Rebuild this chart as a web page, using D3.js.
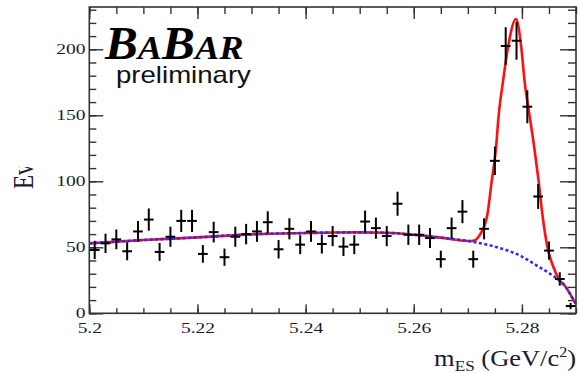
<!DOCTYPE html>
<html><head><meta charset="utf-8">
<script src="https://cdn.jsdelivr.net/npm/d3@7"></script>
<style>html,body{margin:0;padding:0;background:#fff}</style>
</head><body>
<script>
// ---- data ----
const binCenters = [5.201,5.203,5.205,5.207,5.209,5.211,5.213,5.215,5.217,5.219,
  5.221,5.223,5.225,5.227,5.229,5.231,5.233,5.235,5.237,5.239,
  5.241,5.243,5.245,5.247,5.249,5.251,5.253,5.255,5.257,5.259,
  5.261,5.263,5.265,5.267,5.269,5.271,5.273,5.275,5.277,5.279,
  5.281,5.283,5.285,5.287,5.289];
const counts = [48,53,56,47,62,71,46.5,58,70,70,
  45,61.5,42.5,58,60,62,69,48.5,64,52,
  62,52.5,58.5,50.5,52,69.5,64.5,58.5,83,59.5,
  59.5,57,41,64.5,77,41,64,115.5,202.5,206.5,
  156.5,88.5,47.5,26,5.5];
// background fit (blue dotted): [mES, events]
const bgMass  = [5.200,5.210,5.220,5.230,5.240,5.245,5.250,5.255,5.260,5.265,5.270,5.275,5.280,5.283,5.285,5.287,5.288,5.289,5.290];
const bgValue = [53,55.5,57.5,59.8,60.8,61.2,61.3,61.0,59.5,57.3,54.8,50.5,43,35.5,30.5,24.5,20.5,14,7];
// total fit (red) in the peak region
const peakMass  = [5.2710,5.2723,5.2736,5.2744,5.2752,5.2757,5.2765,5.2774,5.2789,5.2799,5.2805,5.2814,5.2823,5.2831,5.2838,5.2847,5.2858,5.2869,5.2880,5.2890,5.2900];
const peakValue = [55.0,60,74.5,99.7,125,150,175.5,200.8,223,200.8,175.5,150.2,125,99.7,74.5,50.5,35.3,25.5,20.5,14,7];
const xTickLabels = [5.20,5.22,5.24,5.26,5.28];
const yTickLabels = [0,50,100,150,200];

const W = 579, H = 373;
const L = 89.3, R = 576, T = 7, B = 313.3;
const svg = d3.select("body").append("svg").attr("width", W).attr("height", H)
  .style("background","#fff");

const x = d3.scaleLinear().domain([5.2, 5.29]).range([L, R]);
const y = d3.scaleLinear().domain([0, (B - T) / 1.32]).range([B, T]);

const tickColor = "#333";
const labelColor = "#1a1a33";
const sx = 1.3;

function styleTicks(g){
  g.select(".domain").remove();
  g.selectAll("line").attr("stroke", tickColor).attr("stroke-width", 1.4);
}

// minor ticks
const xMinor = x.ticks(18), yMinor = y.ticks(23);
svg.append("g").attr("transform",`translate(0,${B})`)
  .call(d3.axisBottom(x).tickValues(xMinor).tickSizeInner(-5).tickSizeOuter(0).tickFormat(""))
  .call(styleTicks);
svg.append("g").attr("transform",`translate(0,${T})`)
  .call(d3.axisTop(x).tickValues(xMinor).tickSizeInner(-7).tickSizeOuter(0).tickFormat(""))
  .call(styleTicks);
svg.append("g").attr("transform",`translate(${L},0)`)
  .call(d3.axisLeft(y).tickValues(yMinor).tickSizeInner(-7).tickSizeOuter(0).tickFormat(""))
  .call(styleTicks);
svg.append("g").attr("transform",`translate(${R},0)`)
  .call(d3.axisRight(y).tickValues(yMinor).tickSizeInner(-8).tickSizeOuter(0).tickFormat(""))
  .call(styleTicks);

// major ticks + labels
const gx = svg.append("g").attr("transform",`translate(0,${B})`)
  .call(d3.axisBottom(x).tickValues(xTickLabels).tickSizeInner(-9).tickSizeOuter(0).tickPadding(9)
    .tickFormat(d => d3.format("")(+d.toFixed(2))))
  .call(styleTicks);
gx.selectAll("text").attr("font-family","Liberation Serif").attr("font-size",15)
  .attr("fill",labelColor).attr("transform",`scale(${sx},1)`);
svg.append("g").attr("transform",`translate(0,${T})`)
  .call(d3.axisTop(x).tickValues(xTickLabels).tickSizeInner(-12).tickSizeOuter(0).tickFormat(""))
  .call(styleTicks);
const gy = svg.append("g").attr("transform",`translate(${L},0)`)
  .call(d3.axisLeft(y).tickValues(yTickLabels).tickSizeInner(-14).tickSizeOuter(0).tickPadding(3))
  .call(styleTicks);
gy.selectAll("text").attr("font-family","Liberation Serif").attr("font-size",15)
  .attr("fill",labelColor).attr("transform",`scale(${sx},1)`).attr("dy","0.3em");
svg.append("g").attr("transform",`translate(${R},0)`)
  .call(d3.axisRight(y).tickValues(yTickLabels).tickSizeInner(-16).tickSizeOuter(0).tickFormat(""))
  .call(styleTicks);

// frame
svg.append("rect").attr("x",L).attr("y",T).attr("width",R-L).attr("height",B-T)
  .attr("fill","none").attr("stroke",tickColor).attr("stroke-width",1.6);

// curves
const bgCurve = bgMass.map((m,i)=>[m,bgValue[i]]);
const totalCurve = bgCurve.filter(p => p[0] < 5.2705).concat(peakMass.map((m,i)=>[m,peakValue[i]]));
const line = d3.line().x(d=>x(d[0])).y(d=>y(d[1])).curve(d3.curveMonotoneX);
svg.append("path").attr("d", line(totalCurve)).attr("fill","none")
  .attr("stroke","#ff1010").attr("stroke-width",2.6).attr("stroke-linejoin","round");
svg.append("path").attr("d", line(bgCurve)).attr("fill","none")
  .attr("stroke","#2a2aff").attr("stroke-width",2.6).attr("stroke-dasharray","3,2.5");

// data points with Poisson error bars
const pts = svg.append("g").attr("stroke","#000").attr("stroke-width",2);
binCenters.forEach((m,i)=>{
  const v = counts[i], e = Math.sqrt(v);
  pts.append("line").attr("x1",x(m)).attr("x2",x(m)).attr("y1",y(v-e)).attr("y2",y(v+e));
  pts.append("line").attr("x1",x(m-0.0009)).attr("x2",x(m+0.0009)).attr("y1",y(v)).attr("y2",y(v));
});

// BaBar logo
const logo = svg.append("text").attr("transform","translate(105,59) scale(1.07,1)")
  .attr("font-family","Liberation Serif").attr("font-style","italic").attr("font-weight","bold")
  .attr("fill","#000");
[["B",46],["A",34],["B",46],["A",34],["R",34]].forEach(([c,s])=>{
  logo.append("tspan").attr("font-size",s).text(c);
});
svg.append("text").attr("transform","translate(116,83) scale(1.2,1)")
  .attr("font-family","Liberation Sans").attr("font-size",23).attr("fill","#111")
  .text("preliminary");

// x-axis title
const xt = svg.append("text").attr("transform","translate(576,366) scale(1.15,1)")
  .attr("text-anchor","end").attr("font-family","Liberation Serif").attr("font-size",23)
  .attr("fill",labelColor);
xt.append("tspan").text("m");
xt.append("tspan").attr("font-size",15).attr("dy",5).text("ES");
xt.append("tspan").attr("dy",-5).text(" (GeV/c");
xt.append("tspan").attr("font-size",14).attr("dy",-9).text("2");
xt.append("tspan").attr("dy",9).text(")");

// y-axis title (clipped as in the original)
svg.append("clipPath").attr("id","yclip").append("rect")
  .attr("x",0).attr("y",167).attr("width",60).attr("height",40);
svg.append("g").attr("clip-path","url(#yclip)")
  .append("text").attr("transform","translate(33,189) scale(1.3,1) rotate(-90)")
  .attr("font-family","Liberation Serif").attr("font-size",23).attr("fill",labelColor)
  .text("Events");
</script>
</body></html>
